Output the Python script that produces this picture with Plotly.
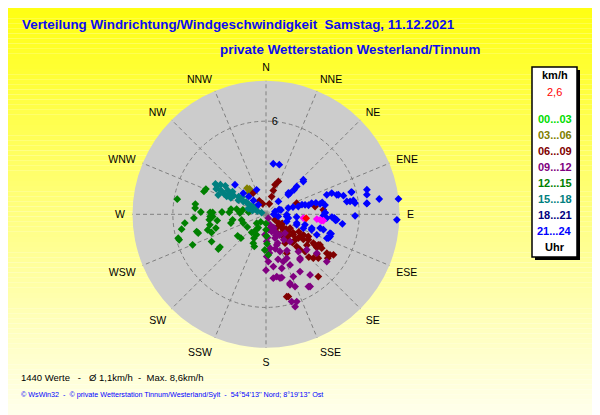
import plotly.graph_objects as go

# Windrose Samstag 11.12.2021 - Punkte (Richtung in Grad, Geschwindigkeit km/h)

dir_labels = ["N", "NNE", "NE", "ENE", "E", "ESE", "SE", "SSE",
              "S", "SSW", "SW", "WSW", "W", "WNW", "NW", "NNW"]
dir_ticks = [0, 22.5, 45, 67.5, 90, 112.5, 135, 157.5,
             180, 202.5, 225, 247.5, 270, 292.5, 315, 337.5]

legend_labels = ["00...03", "03...06", "06...09", "09...12",
                 "12...15", "15...18", "18...21", "21...24"]
legend_colors = ["#00DD00", "#808000", "#800000", "#800080",
                 "#008000", "#008080", "#000080", "#0000FF"]

# 03..06
dir_0306 = [324, 325, 323, 327, 322]
spd_0306 = [2.08, 1.88, 1.65, 1.95, 1.75]

# 06..09
dir_0609 = [20.6, 17, 17, 17.7, 17.5, 329, 333.6, 342.5, 70, 81, 85.5,
            121, 123.8, 131.9, 119.9, 126.9, 123.1, 118.8, 121, 121.3, 120.3,
            121.3, 122.6, 122.3, 121, 125.4, 132.8, 128, 136.4, 136.2, 133.6,
            138.8, 146.6, 151.9, 140, 164.8, 126.4, 117.7, 119.5, 123.2,
            125, 128, 130, 124, 127, 118, 122, 135, 130, 145, 150, 140,
            165.9, 129, 133, 126, 119, 124, 137, 142]
spd_0609 = [2.26, 1.99, 1.61, 1.2, 0.71, 1.6, 0.97, 0.71, 2.1, 3.2, 3.7,
            0.68, 1.22, 1.5, 1.79, 2.2, 2.62, 2.75, 3.19, 3.57, 3.9,
            4.2, 4.65, 4.88, 5.07, 4.88, 4.16, 4.16, 2.87, 3.17, 3.48,
            2.19, 2.23, 2.84, 5.24, 5.49, 2.59, 3.08, 4.0, 3.91,
            1.0, 1.8, 2.5, 2.9, 3.3, 2.4, 3.7, 3.9, 4.4, 1.6, 1.3, 1.1,
            5.47, 1.3, 2.0, 1.6, 1.2, 2.1, 2.5, 1.9]

# 09..12
dir_0912 = [149, 159, 161.7, 159.3, 160.7, 159.4, 159.9, 163.7, 172, 177.2,
            179, 170.2, 167.6, 160.8, 158.1, 156.3, 149.6, 144, 163.6, 160.6,
            162.5, 154.6, 139, 131, 142.2, 154.7, 173, 178.5, 182.8, 134.7,
            138.6, 127.9, 127.4, 148.6, 161.2, 166, 173.5, 149.3, 143.2, 150,
            155, 145, 165, 150, 170, 175, 165, 180, 176, 152, 158, 147]
spd_0912 = [0.29, 0.72, 1.17, 1.64, 2.09, 2.56, 3.24, 3.62, 3.4, 3.05,
            2.72, 4.07, 4.2, 4.7, 5.02, 4.38, 5.4, 4.83, 5.86, 5.96,
            6.24, 3.61, 3.18, 3.48, 3.58, 3.13, 2.2, 1.75, 1.32, 1.72,
            2.34, 4.96, 4.12, 5.45, 4.8, 4.2, 4.14, 4.29, 3.66, 1.0,
            1.5, 2.0, 2.3, 2.7, 1.0, 2.5, 3.0, 3.6, 1.5, 1.3, 2.0, 1.6]

# 12..15
dir_1215 = [292.8, 290.2, 279.7, 278.2, 275, 272, 272, 272, 273, 273,
            278.5, 280, 281, 277, 272.6, 267.6, 267.8, 267, 264.5, 262.7,
            260.6, 256, 257, 249, 259.4, 263.8, 260, 256, 254.5, 255,
            254.6, 251.5, 254.8, 253.6, 243.4, 247.4, 234.5, 233.9, 232.8, 226.4,
            235.6, 218, 226.6, 212.8, 206.8, 203.8, 205, 200, 180, 180,
            179, 178, 176.7, 182, 210, 215]
spd_1215 = [4.2, 4.26, 5.8, 4.6, 4.58, 4.2, 3.6, 3.44, 2.84, 2.37,
            2.28, 1.92, 1.52, 1.13, 1.68, 3.44, 3.6, 4.65, 3.67, 3.17,
            2.18, 2.33, 1.61, 1.57, 3.68, 5.26, 5.52, 4.6, 4.53, 3.89,
            3.35, 3.7, 5.86, 5.83, 3.92, 5.12, 3.64, 3.8, 2.29, 2.23,
            1.46, 1.49, 0.83, 1.19, 1.72, 2.03, 1.45, 2.2, 0.6, 1.0,
            1.4, 1.9, 2.62, 2.3, 1.0, 0.6]

# 15..18
dir_1518 = [300.3, 298.4, 299.4, 301.6, 292, 294.4, 290, 290, 303, 305,
            302, 300, 303, 297, 300, 296, 304, 306, 298, 295,
            302, 299, 293, 296, 301, 297, 288, 285]
spd_1518 = [3.64, 2.64, 1.68, 0.96, 3.32, 2.78, 0.6, 0.3, 3.5, 3.2,
            2.9, 2.4, 2.1, 2.0, 1.3, 3.0, 2.6, 1.9, 3.3, 2.5,
            1.5, 1.1, 1.0, 0.8, 3.8, 3.6, 1.2, 0.9]

# 21..24
dir_2124 = [8.2, 15, 313.6, 313, 316, 318, 321, 339, 44, 48.8,
            48.6, 47.8, 47.2, 48.7, 49, 46.4,
            72.7, 74, 74.5, 75, 76.4, 76.3, 76.2, 77, 79, 81.1, 78, 70, 78, 75,
            72.2, 72.1, 74.6, 76.5, 75.5, 81, 81, 82.8, 76.3, 84,
            82.3, 83.4, 92.4, 91, 97.1, 92.4, 94.5, 106.7, 111.4, 105,
            104.3, 106.8, 108.9, 88.3, 96, 109, 95, 93.6, 94, 99.7,
            106, 110.3, 108.7, 112, 106.4, 111, 88.8, 100, 90, 79,
            83.7, 75.4, 81.3, 74.9, 91.2, 109.1, 105, 91, 93, 95]
spd_2124 = [3.29, 3.31, 2.76, 2.0, 1.6, 1.2, 0.79, 1.69, 1.15, 1.91,
            2.07, 2.67, 3.28, 3.2, 2.4, 1.99,
            0.61, 1.0, 1.49, 1.8, 2.14, 2.59, 3.03, 3.3, 3.55, 3.85, 3.7, 0.9, 2.8, 2.4,
            4.11, 4.45, 4.73, 5.13, 5.71, 5.27, 5.7, 5.78, 6.69, 6.53,
            7.36, 8.59, 8.44, 5.74, 4.96, 4.25, 4.57, 4.38, 4.21, 3.83,
            3.6, 3.08, 2.09, 3.81, 1.34, 1.41, 1.98, 3.92, 4.46, 1.46,
            2.06, 2.57, 3.1, 3.53, 4.3, 4.3, 3.8, 0.8, 0.5, 6.62,
            6.54, 5.67, 5.48, 4.83, 3.7, 4.37, 2.6, 1.34, 4.4, 4.5]

# letzte Werte / aktueller Wert
dir_last = [95.8, 95.4, 96.2, 95.8, 96.5]
spd_last = [3.5, 3.29, 3.72, 2.42, 3.6]
dir_now = [95.6]
spd_now = [2.6]

series = [
    (dir_0306, spd_0306, "#808000"),
    (dir_0609, spd_0609, "#800000"),
    (dir_0912, spd_0912, "#800080"),
    (dir_1215, spd_1215, "#008000"),
    (dir_1518, spd_1518, "#008080"),
    (dir_2124, spd_2124, "#0000FF"),
    (dir_last, spd_last, "#FF00FF"),
    (dir_now, spd_now, "#FF0000"),
]

# Seite hat 8px Rand -> Figur etwas kleiner, Koordinaten verschoben
OFF = 8
W, H = 600 - OFF, 415 - OFF


def px(x):
    return (x - OFF) / W


def py(y):
    return 1 - (y - OFF) / H


fig = go.Figure()
for d, s, c in series:
    fig.add_trace(go.Scatterpolar(theta=d, r=s, mode="markers",
                                  marker=dict(symbol="diamond", size=6, color=c),
                                  showlegend=False, hoverinfo="skip"))

# Hintergrund-Verlauf gelb -> hellgelb
shapes = []
n = 80
for i in range(n):
    b = int(20 + 215 * i / (n - 1))
    shapes.append(dict(type="rect", xref="paper", yref="paper", layer="below",
                       x0=0, x1=1, y0=1 - (i + 1) / n, y1=1 - i / n,
                       line=dict(width=0), fillcolor=f"rgb(255,255,{b})"))

# Legendenkasten mit Schatten
shapes.append(dict(type="rect", xref="paper", yref="paper",
                   x0=px(535), x1=px(580), y0=py(260), y1=py(70),
                   line=dict(width=0), fillcolor="black"))
shapes.append(dict(type="rect", xref="paper", yref="paper",
                   x0=px(532), x1=px(577), y0=py(257), y1=py(67),
                   line=dict(width=1.5, color="black"), fillcolor="white"))

font = "Liberation Sans, Arial, sans-serif"
ann = [
    dict(x=px(20), y=py(25), text="<b>Verteilung Windrichtung/Windgeschwindigkeit  Samstag, 11.12.2021</b>",
         xanchor="left", font=dict(size=13.4, color="#0C0CF0")),
    dict(x=px(218), y=py(50), text="<b>private Wetterstation Westerland/Tinnum</b>",
         xanchor="left", font=dict(size=13.4, color="#0C0CF0")),
    dict(x=px(19), y=py(377), text="1440 Werte   -   Ø 1,1km/h  -  Max. 8,6km/h",
         xanchor="left", font=dict(size=9.5, color="black")),
    dict(x=px(19), y=py(394),
         text="© WsWin32  -  © private Wetterstation Tinnum/Westerland/Sylt  -  54°54'13'' Nord; 8°19'13'' Ost",
         xanchor="left", font=dict(size=7.2, color="#0000FF")),
    dict(x=px(554.5), y=py(75), text="<b>km/h</b>", xanchor="center",
         font=dict(size=11, color="black")),
    dict(x=px(554.5), y=py(92), text="2,6", xanchor="center",
         font=dict(size=11, color="#FF0000")),
    dict(x=px(554.5), y=py(247), text="<b>Uhr</b>", xanchor="center",
         font=dict(size=11, color="black")),
]
for i, (lab, col) in enumerate(zip(legend_labels, legend_colors)):
    ann.append(dict(x=px(554.5), y=py(119 + 16 * i), text=f"<b>{lab}</b>",
                    xanchor="center", font=dict(size=11, color=col)))
for a in ann:
    a.update(xref="paper", yref="paper", showarrow=False, yanchor="middle")

fig.update_layout(
    width=W, height=H,
    margin=dict(l=0, r=0, t=0, b=0),
    paper_bgcolor="white",
    font=dict(family=font),
    shapes=shapes,
    annotations=ann,
    polar=dict(
        domain=dict(x=[px(132.5), px(399.5)], y=[py(347.8), py(80.8)]),
        bgcolor="#CCCCCC",
        angularaxis=dict(rotation=90, direction="clockwise",
                         tickmode="array", tickvals=dir_ticks, ticktext=dir_labels,
                         showline=False, ticks="outside", ticklen=5,
                         tickcolor="rgba(0,0,0,0)",
                         gridcolor="#808080", griddash="4px,3px",
                         gridwidth=1, tickfont=dict(size=10.5, color="black")),
        radialaxis=dict(range=[0, 8.6], tickmode="array", tickvals=[6], ticktext=["6"],
                        showline=False, ticks="outside", ticklen=3,
                        tickcolor="rgba(0,0,0,0)", angle=90, tickangle=90,
                        gridcolor="#808080", griddash="4px,3px", gridwidth=1,
                        tickfont=dict(size=11, color="black")),
    ),
)

fig.write_html("out.html")
